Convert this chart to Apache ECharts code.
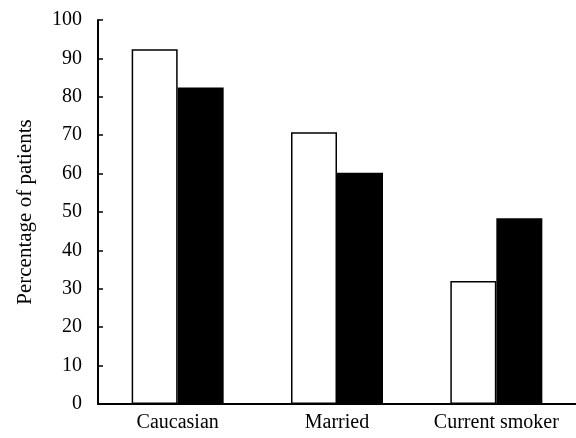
<!DOCTYPE html>
<html>
<head>
<meta charset="utf-8">
<script src="https://cdn.jsdelivr.net/npm/echarts@6/dist/echarts.min.js"></script>
<style>
  html, body { margin: 0; padding: 0; background: #fff; }
  #chart { width: 576px; height: 438px; }
</style>
</head>
<body>
<div id="chart"></div>
<script>
  const categories = ["Caucasian", "Married", "Current smoker"];
  const whiteValues = [92.4, 70.8, 32.0];
  const blackValues = [82.4, 60.2, 48.4];
  const yTicks = { min: 0, max: 100, interval: 10 };

  const font = "Liberation Serif";
  const chart = echarts.init(document.getElementById("chart"), null, { renderer: "canvas" });
  chart.setOption({
    animation: false,
    backgroundColor: "#fff",
    grid: { left: 98, top: 20, width: 482, height: 384 },
    xAxis: {
      type: "category",
      data: categories,
      axisLine: { lineStyle: { color: "#000", width: 2 } },
      axisTick: { inside: true, length: 5, lineStyle: { color: "#000", width: 1.5 } },
      axisLabel: { interval: 0, hideOverlap: false, color: "#000", fontFamily: font, fontSize: 20, margin: 9 },
    },
    yAxis: {
      type: "value",
      min: yTicks.min,
      max: yTicks.max,
      interval: yTicks.interval,
      name: "Percentage of patients",
      nameLocation: "middle",
      nameGap: 62,
      nameTextStyle: { color: "#000", fontFamily: font, fontSize: 21 },
      axisLine: { show: true, lineStyle: { color: "#000", width: 2 } },
      axisTick: { show: true, inside: true, length: 5, lineStyle: { color: "#000", width: 1.5 } },
      axisLabel: { color: "#000", fontFamily: font, fontSize: 20, margin: 16 },
      splitLine: { show: false },
    },
    series: [
      {
        type: "bar",
        data: whiteValues,
        barWidth: 46,
        barGap: "0%",
        itemStyle: { color: "#fff", borderColor: "#000", borderWidth: 1.5 },
      },
      {
        type: "bar",
        data: blackValues,
        barWidth: 46,
        itemStyle: { color: "#000", borderColor: "#000", borderWidth: 1.5 },
      },
    ],
  });
</script>
</body>
</html>
